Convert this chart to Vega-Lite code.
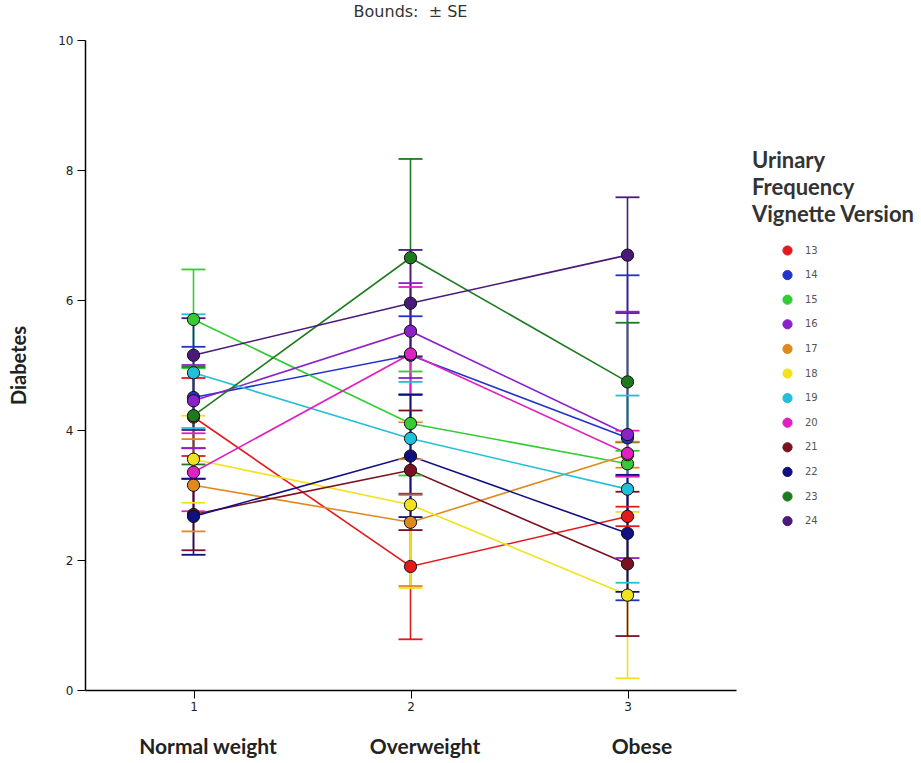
{
  "$schema": "https://vega.github.io/schema/vega-lite/v6.json",
  "width": 651,
  "height": 650,
  "autosize": {"type": "none"},
  "padding": {"left": 85, "top": 40, "right": 185, "bottom": 73},
  "background": "white",
  "config": {"view": {"stroke": null}},
  "title": {"text": "Bounds:\u00a0\u00a0± SE", "fontSize": 16, "font": "DejaVu Sans", "fontWeight": "normal", "color": "#333", "offset": 14, "anchor": "middle"},
  "data": {"values": [
    {"s": "13", "x": 1, "m": 4.2, "lo": 3.6, "hi": 4.8},
    {"s": "13", "x": 2, "m": 1.9, "lo": 0.78, "hi": 3.02},
    {"s": "13", "x": 3, "m": 2.67, "lo": 2.52, "hi": 2.82},
    {"s": "14", "x": 1, "m": 4.5, "lo": 3.72, "hi": 5.28},
    {"s": "14", "x": 2, "m": 5.15, "lo": 4.55, "hi": 5.75},
    {"s": "14", "x": 3, "m": 3.88, "lo": 1.38, "hi": 6.38},
    {"s": "15", "x": 1, "m": 5.7, "lo": 4.95, "hi": 6.47},
    {"s": "15", "x": 2, "m": 4.1, "lo": 3.3, "hi": 4.9},
    {"s": "15", "x": 3, "m": 3.48, "lo": 3.28, "hi": 3.68},
    {"s": "16", "x": 1, "m": 4.45, "lo": 3.72, "hi": 5.0},
    {"s": "16", "x": 2, "m": 5.52, "lo": 4.8, "hi": 6.26},
    {"s": "16", "x": 3, "m": 3.93, "lo": 2.03, "hi": 5.82},
    {"s": "17", "x": 1, "m": 3.15, "lo": 2.44, "hi": 3.86},
    {"s": "17", "x": 2, "m": 2.58, "lo": 1.6, "hi": 3.55},
    {"s": "17", "x": 3, "m": 3.62, "lo": 3.42, "hi": 3.82},
    {"s": "18", "x": 1, "m": 3.55, "lo": 2.88, "hi": 4.22},
    {"s": "18", "x": 2, "m": 2.85, "lo": 1.57, "hi": 4.13},
    {"s": "18", "x": 3, "m": 1.46, "lo": 0.18, "hi": 2.74},
    {"s": "19", "x": 1, "m": 4.88, "lo": 4.03, "hi": 5.78},
    {"s": "19", "x": 2, "m": 3.87, "lo": 3.0, "hi": 4.74},
    {"s": "19", "x": 3, "m": 3.09, "lo": 1.65, "hi": 4.53},
    {"s": "20", "x": 1, "m": 3.35, "lo": 2.75, "hi": 3.95},
    {"s": "20", "x": 2, "m": 5.17, "lo": 4.12, "hi": 6.2},
    {"s": "20", "x": 3, "m": 3.64, "lo": 3.29, "hi": 3.99},
    {"s": "21", "x": 1, "m": 2.7, "lo": 2.15, "hi": 3.25},
    {"s": "21", "x": 2, "m": 3.38, "lo": 2.46, "hi": 4.3},
    {"s": "21", "x": 3, "m": 1.94, "lo": 0.83, "hi": 3.05},
    {"s": "22", "x": 1, "m": 2.67, "lo": 2.08, "hi": 3.25},
    {"s": "22", "x": 2, "m": 3.6, "lo": 2.66, "hi": 4.54},
    {"s": "22", "x": 3, "m": 2.41, "lo": 1.51, "hi": 3.31},
    {"s": "23", "x": 1, "m": 4.22, "lo": 3.47, "hi": 4.97},
    {"s": "23", "x": 2, "m": 6.65, "lo": 5.13, "hi": 8.17},
    {"s": "23", "x": 3, "m": 4.74, "lo": 3.81, "hi": 5.65},
    {"s": "24", "x": 1, "m": 5.15, "lo": 4.0, "hi": 5.72},
    {"s": "24", "x": 2, "m": 5.95, "lo": 5.13, "hi": 6.77},
    {"s": "24", "x": 3, "m": 6.69, "lo": 5.8, "hi": 7.58}
  ]},
  "resolve": {"axis": {"x": "independent"}},
  "layer": [
    {
      "mark": {"type": "line", "strokeWidth": 1.6},
      "encoding": {
        "x": {"field": "x", "type": "quantitative", "scale": {"domain": [0.5, 3.5], "nice": false, "zero": false},
              "axis": {"orient": "bottom", "values": [1, 2, 3], "title": null, "grid": false, "domainColor": "#000", "domainWidth": 1.5, "tickColor": "#000", "tickSize": 8, "labelFontSize": 12, "labelFont": "DejaVu Sans", "labelColor": "#222", "labelPadding": 3, "format": "d"}},
        "y": {"field": "m", "type": "quantitative", "scale": {"domain": [0, 10], "nice": false},
              "axis": {"values": [0, 2, 4, 6, 8, 10], "format": "d", "title": "Diabetes", "titleFont": "Lato", "titleFontSize": 20, "titleFontWeight": "bold", "titleColor": "#222", "titlePadding": 28, "grid": false, "domainColor": "#000", "domainWidth": 1.5, "tickColor": "#000", "tickSize": 8, "labelFontSize": 12, "labelFont": "DejaVu Sans", "labelColor": "#222", "labelPadding": 4}},
        "color": {"field": "s", "type": "nominal"},
        "order": {"field": "x"}
      }
    },
    {
      "mark": {"type": "rule", "strokeWidth": 1.6},
      "encoding": {
        "x": {"field": "x", "type": "quantitative", "scale": {"domain": [0.5, 3.5], "nice": false, "zero": false},
              "axis": {"orient": "bottom", "values": [1, 2, 3], "title": null, "grid": false, "domain": false, "ticks": false, "labelPadding": 46, "labelOffset": 14, "labelFont": "Lato", "labelFontSize": 21, "labelFontWeight": "bold", "labelColor": "#222", "labelExpr": "datum.value == 1 ? 'Normal weight' : datum.value == 2 ? 'Overweight' : 'Obese'"}},
        "y": {"field": "lo", "type": "quantitative"},
        "y2": {"field": "hi"},
        "color": {"field": "s", "type": "nominal"}
      }
    },
    {
      "mark": {"type": "tick", "orient": "horizontal", "size": 24, "thickness": 1.8, "opacity": 1},
      "encoding": {
        "x": {"field": "x", "type": "quantitative", "axis": null},
        "y": {"field": "lo", "type": "quantitative"},
        "color": {"field": "s", "type": "nominal"}
      }
    },
    {
      "mark": {"type": "tick", "orient": "horizontal", "size": 24, "thickness": 1.8, "opacity": 1},
      "encoding": {
        "x": {"field": "x", "type": "quantitative", "axis": null},
        "y": {"field": "hi", "type": "quantitative"},
        "color": {"field": "s", "type": "nominal"}
      }
    },
    {
      "mark": {"type": "point", "shape": "circle", "filled": true, "size": 150, "opacity": 1, "stroke": "#111", "strokeWidth": 1},
      "encoding": {
        "x": {"field": "x", "type": "quantitative", "axis": null},
        "y": {"field": "m", "type": "quantitative"},
        "color": {"field": "s", "type": "nominal",
                  "scale": {"domain": ["13","14","15","16","17","18","19","20","21","22","23","24"],
                            "range": ["#e31a1c","#2233cc","#33cc33","#8a22c8","#e08a1e","#f2e21e","#22c0d8","#e020c0","#7a1020","#101080","#1e7a1e","#4a1a7a"]},
                  "legend": {"title": ["Urinary", "Frequency", "Vignette Version"], "orient": "none", "legendX": 667, "legendY": 111,
                             "titleFont": "Lato", "titleFontSize": 22, "titleFontWeight": "bold", "titleColor": "#333", "titleLimit": 400, "titleLineHeight": 27, "titlePadding": 18,
                             "labelFont": "DejaVu Sans", "labelFontSize": 10, "labelColor": "#555", "labelOffset": 12,
                             "symbolType": "circle", "symbolSize": 85, "symbolStrokeColor": "#222", "symbolStrokeWidth": 1, "symbolOffset": 30, "rowPadding": 9.6,
                             "encode": {"symbols": {"update": {"stroke": {"value": "#222"}, "strokeWidth": {"value": 1}}}}}}
      }
    }
  ]
}
